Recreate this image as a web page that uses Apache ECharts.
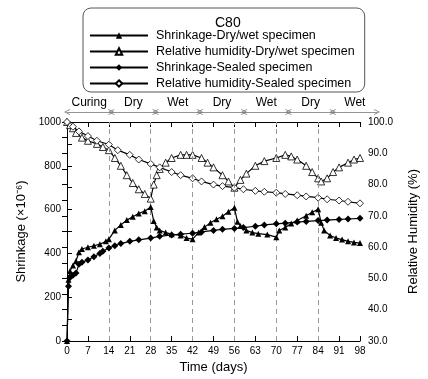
<!DOCTYPE html>
<html>
<head>
<meta charset="utf-8">
<script src="https://cdn.jsdelivr.net/npm/echarts@6/dist/echarts.min.js"></script>
<style>
  * { margin: 0; padding: 0; }
  body { background: #fff; }
  #chart { width: 428px; height: 379px; }
</style>
</head>
<body>
<div id="chart"></div>
<script>
// data
var dwShrinkDays = [0, 0.5, 1, 2, 3, 4, 5, 7, 9, 11, 13, 14, 16, 18, 20, 22, 24, 26, 28, 29, 30, 31, 33, 35, 38, 40, 42, 44, 46, 48, 50, 52, 54, 56, 57, 58, 60, 62, 64, 67, 70, 71, 73, 75, 77, 80, 82, 84, 85, 86, 88, 90, 92, 94, 96, 98];
var dwShrink = [0, 280, 320, 345, 365, 405, 420, 428, 435, 442, 455, 465, 505, 530, 552, 567, 582, 593, 612, 548, 518, 505, 495, 488, 482, 470, 465, 495, 520, 540, 556, 570, 590, 608, 545, 525, 505, 495, 490, 486, 474, 505, 518, 536, 550, 572, 588, 602, 540, 505, 482, 470, 463, 455, 450, 447];

var dwRHDays = [0, 1, 2, 3, 5, 7, 10, 12, 14, 16, 18, 20, 22, 24, 26, 28, 29, 30, 31, 33, 35, 38, 40, 42, 45, 47, 49, 52, 54, 56, 58, 60, 63, 66, 70, 73, 75, 77, 80, 82, 84, 85, 87, 89, 91, 94, 96, 98];
var dwRH = [100, 99, 98, 96.5, 95, 94, 93, 92, 91, 88.5, 86, 83, 80.5, 78.5, 77, 75.5, 80, 83, 85, 87, 88.5, 89.5, 89.5, 89.5, 88.5, 87, 85.5, 83, 81, 79, 81.5, 83.5, 86, 87.5, 88.5, 89.5, 89, 88, 86, 84, 82, 81, 82, 84, 85.5, 87, 88, 88.5];

var sealShrinkDays = [0, 0.5, 1, 2, 3, 4, 5, 7, 9, 11, 12, 14, 16, 18, 21, 24, 28, 31, 35, 38, 42, 45, 49, 52, 56, 59, 63, 66, 70, 73, 77, 80, 84, 87, 91, 94, 98];
var sealShrink = [0, 250, 290, 300, 310, 350, 360, 370, 385, 400, 410, 425, 435, 445, 455, 462, 470, 478, 484, 488, 492, 498, 505, 510, 514, 518, 524, 530, 535, 538, 543, 546, 550, 552, 555, 557, 560];

var sealRHDays = [0, 2, 4, 7, 10, 14, 17, 21, 24, 28, 31, 35, 38, 42, 45, 49, 52, 56, 59, 63, 66, 70, 73, 77, 80, 84, 87, 91, 94, 98];
var sealRH = [100, 98.5, 97, 95.5, 94, 92.8, 91, 89.5, 88, 86.6, 85.5, 84, 83, 82, 81, 80, 79.5, 79, 78.5, 78, 77.7, 77.4, 77, 76.6, 76.2, 75.8, 75.3, 74.9, 74.5, 74];

var boundaries = [14, 28, 42, 56, 70, 84];
var periodNames = ['Curing', 'Dry', 'Wet', 'Dry', 'Wet', 'Dry', 'Wet'];
var periodEdges = [0, 14, 28, 42, 56, 70, 84, 98];

var seriesNames = [
  'Shrinkage-Dry/wet specimen',
  'Relative humidity-Dry/wet specimen',
  'Shrinkage-Sealed specimen',
  'Relative humidity-Sealed specimen'
];

function pairs(xs, ys) {
  return xs.map(function (x, i) { return [x, ys[i]]; });
}

var font = '"Liberation Sans", Arial, sans-serif';
var chevron = 'path://M0,10 L5,0 L10,10 L8.6,10 L5,2.8 L1.4,10 Z';

var periodLines = periodNames.map(function (name, i) {
  return [
    { coord: [periodEdges[i], 0.5], label: { formatter: name } },
    { coord: [periodEdges[i + 1], 0.5] }
  ];
});

var chart = echarts.init(document.getElementById('chart'));
chart.setOption({
  animation: false,
  textStyle: { fontFamily: font },
  title: {
    text: 'C80',
    left: 210,
    top: 11,
    textStyle: { fontSize: 14, fontWeight: 'normal', color: '#000', fontFamily: font }
  },
  legend: {
    data: seriesNames,
    orient: 'vertical',
    left: 83,
    top: 8,
    padding: [21, 10, 2, 6],
    itemWidth: 58,
    itemHeight: 8,
    itemGap: 3,
    borderColor: '#555',
    borderWidth: 1,
    borderRadius: 8,
    textStyle: { fontSize: 12.5, lineHeight: 13, color: '#000', fontFamily: font, padding: [0, 0, 0, 3] }
  },
  grid: [
    { left: 67, right: 51, top: 122, bottom: 31 },
    { left: 67, right: 51, top: 100, height: 24 }
  ],
  xAxis: [
    {
      type: 'value', gridIndex: 0, min: 0, max: 98, interval: 7,
      name: 'Time (days)', nameLocation: 'middle', nameGap: 20,
      nameTextStyle: { fontSize: 13, color: '#000', fontFamily: font },
      axisLine: { lineStyle: { color: '#000', width: 1 } },
      axisTick: { inside: true, length: 5, lineStyle: { color: '#000' } },
      axisLabel: { fontSize: 10, color: '#000', margin: 5, fontFamily: font },
      splitLine: { show: false }
    },
    {
      type: 'value', gridIndex: 0, position: 'top', min: 0, max: 98, interval: 7,
      axisLine: { lineStyle: { color: '#000', width: 1 } },
      axisTick: { inside: true, length: 5, lineStyle: { color: '#000' } },
      axisLabel: { show: false },
      splitLine: { show: false }
    },
    { type: 'value', gridIndex: 1, min: 0, max: 98, show: false }
  ],
  yAxis: [
    {
      type: 'value', gridIndex: 0, min: 0, max: 1000, interval: 100,
      name: 'Shrinkage (\u00d710\u207b\u2076)', nameLocation: 'middle', nameGap: 38,
      nameTextStyle: { fontSize: 13, color: '#000', fontFamily: font },
      axisLine: { show: true, lineStyle: { color: '#000', width: 1 } },
      axisTick: { show: true, inside: true, length: 5, lineStyle: { color: '#000' } },
      axisLabel: {
        fontSize: 10, color: '#000', margin: 6, fontFamily: font,
        formatter: function (v) { return v % 200 === 0 ? String(v) : ''; }
      },
      splitLine: { show: false }
    },
    {
      type: 'value', gridIndex: 0, position: 'right', min: 30, max: 100, interval: 5,
      name: 'Relative Humidity (%)', nameLocation: 'middle', nameGap: 47, nameRotate: 90,
      nameTextStyle: { fontSize: 13, color: '#000', fontFamily: font },
      axisLine: { show: true, lineStyle: { color: '#000', width: 1 } },
      axisTick: { show: true, inside: true, length: 5, lineStyle: { color: '#000' } },
      axisLabel: {
        fontSize: 10, color: '#000', margin: 8, fontFamily: font,
        formatter: function (v) { return v % 10 === 0 ? v.toFixed(1) : ''; }
      },
      splitLine: { show: false }
    },
    { type: 'value', gridIndex: 1, min: 0, max: 1, show: false }
  ],
  series: [
    {
      name: seriesNames[0], type: 'line', xAxisIndex: 0, yAxisIndex: 0,
      data: pairs(dwShrinkDays, dwShrink),
      symbol: 'triangle', symbolSize: 6, showAllSymbol: true,
      lineStyle: { color: '#000', width: 1.2 },
      itemStyle: { color: '#000' },
      z: 5,
      markLine: {
        silent: true, symbol: 'none', animation: false,
        label: { show: false },
        lineStyle: { color: '#999', type: [5, 4], width: 1 },
        data: boundaries.map(function (b) { return { xAxis: b }; })
      }
    },
    {
      name: seriesNames[1], type: 'line', xAxisIndex: 0, yAxisIndex: 1,
      data: pairs(dwRHDays, dwRH),
      symbol: 'triangle', symbolSize: 7, showAllSymbol: true,
      lineStyle: { color: '#000', width: 1.2 },
      itemStyle: { color: '#fff', borderColor: '#000', borderWidth: 0.8 },
      z: 4
    },
    {
      name: seriesNames[2], type: 'line', xAxisIndex: 0, yAxisIndex: 0,
      data: pairs(sealShrinkDays, sealShrink),
      symbol: 'diamond', symbolSize: 7, showAllSymbol: true,
      lineStyle: { color: '#000', width: 1.2 },
      itemStyle: { color: '#000' },
      z: 5
    },
    {
      name: seriesNames[3], type: 'line', xAxisIndex: 0, yAxisIndex: 1,
      data: pairs(sealRHDays, sealRH),
      symbol: 'diamond', symbolSize: 7, showAllSymbol: true,
      lineStyle: { color: '#000', width: 1.2 },
      itemStyle: { color: '#fff', borderColor: '#000', borderWidth: 0.8 },
      z: 4
    },
    {
      type: 'line', xAxisIndex: 2, yAxisIndex: 2, data: [],
      silent: true,
      markLine: {
        silent: true, animation: false,
        symbol: [chevron, chevron], symbolSize: [6, 6],
        lineStyle: { color: '#777', type: 'solid', width: 0.8 },
        label: {
          show: true, position: 'insideMiddleTop', distance: 3,
          color: '#000', fontSize: 12, fontFamily: font
        },
        data: periodLines
      }
    }
  ]
});
</script>
</body>
</html>
